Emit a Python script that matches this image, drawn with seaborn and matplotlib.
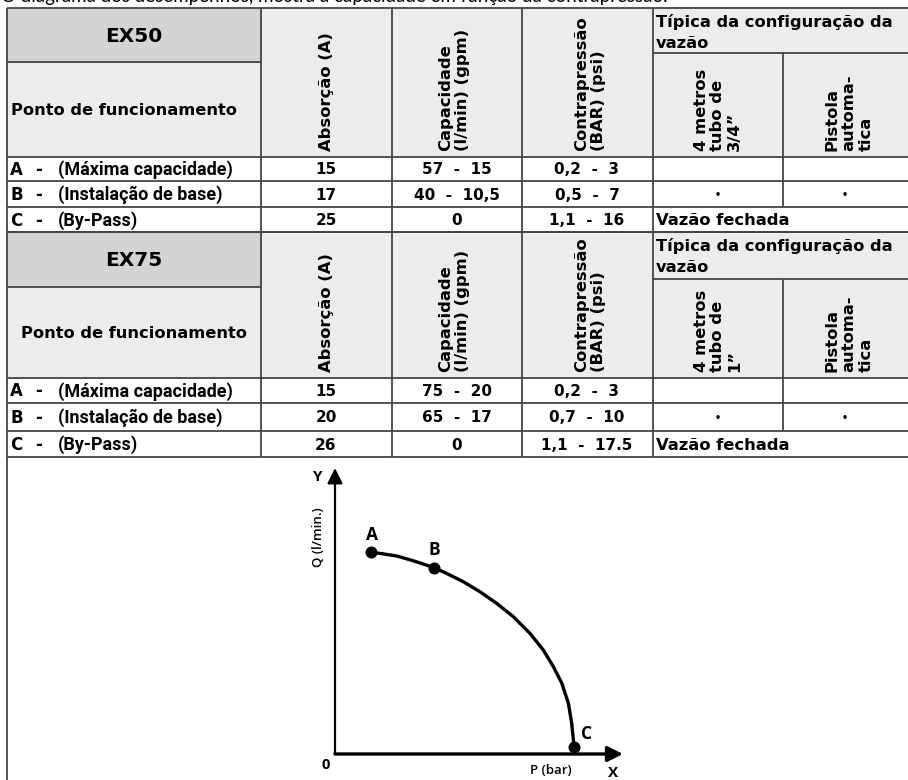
import matplotlib
matplotlib.use('Agg')
import matplotlib.pyplot as plt
from matplotlib.patches import Rectangle
import seaborn as sns

# ---- data ----
caption = 'O diagrama dos desempenhos, mostra a capacidade em função da contrapressão.'
points = ['A', 'B', 'C']
point_desc = ['(Máxima capacidade)', '(Instalação de base)', '(By-Pass)']

ex50_absorcao = ['15', '17', '25']
ex50_capacidade = ['57  -  15', '40  -  10,5', '0']
ex50_contrapressao = ['0,2  -  3', '0,5  -  7', '1,1  -  16']
ex50_tubo = '4 metros\ntubo de\n3/4”'

ex75_absorcao = ['15', '20', '26']
ex75_capacidade = ['75  -  20', '65  -  17', '0']
ex75_contrapressao = ['0,2  -  3', '0,7  -  10', '1,1  -  17.5']
ex75_tubo = '4 metros\ntubo de\n1”'

config_tubo = ['', '•', None]
config_pistola = ['', '•', None]
closed_text = 'Vazão fechada'

# diagram: pressure P vs capacity Q (arbitrary units)
curve_p = [1.2, 1.61, 2.06, 2.61, 3.31, 3.72, 4.28, 4.83, 5.39, 5.94, 6.5, 6.94,
           7.28, 7.56, 7.78, 7.89, 7.97]
curve_q = [6.73, 6.67, 6.6, 6.44, 6.21, 6.02, 5.74, 5.41, 5.02, 4.58, 4.02, 3.47,
           2.91, 2.36, 1.69, 1.02, 0.24]
point_p = [1.2, 3.31, 7.97]
point_q = [6.73, 6.21, 0.24]

sns.set_style('white')
TF = ['DejaVu Sans']
NF = ['Liberation Sans Narrow', 'Roboto', 'DejaVu Sans']
CF = ['Open Sans', 'DejaVu Sans']
plt.rcParams['font.family'] = TF
plt.rcParams['text.color'] = 'black'
W = 'bold'

fig = plt.figure(figsize=(9.08, 7.8), dpi=100)
ax = fig.add_axes([0, 0, 1, 1])
ax.set_xlim(0, 908)
ax.set_ylim(780, 0)
ax.axis('off')

cols = [7, 261, 392, 522, 653, 783, 908]
LC = '#444444'
LW = 1.3


def hline(y, x0, x1):
    ax.plot([x0, x1], [y, y], color=LC, lw=LW, solid_capstyle='butt')


def vline(x, y0, y1):
    ax.plot([x, x], [y0, y1], color=LC, lw=LW, solid_capstyle='butt')


def rot(x, y, s):
    ax.text(x, y, s, rotation=90, rotation_mode='anchor', ha='left', va='center',
            fontsize=11.8, fontweight=W, family=TF, linespacing=1.15)


def block(top, ex_split, tip_split, head_bottom, rows, model,
          absorcao, capacidade, contrapressao, tubo, ponto_center):
    ax.add_patch(Rectangle((cols[0], top), cols[-1] - cols[0], head_bottom - top,
                           fc='#ececec', ec='none'))
    ax.add_patch(Rectangle((cols[0], top), cols[1] - cols[0], ex_split - top,
                           fc='#d4d4d4', ec='none'))
    hline(top, cols[0], cols[-1])
    hline(ex_split, cols[0], cols[1])
    hline(tip_split, cols[4], cols[-1])
    hline(head_bottom, cols[0], cols[-1])
    for r in rows[1:]:
        hline(r, cols[0], cols[-1])
    for c in cols[:5]:
        vline(c, top, rows[-1])
    vline(cols[5], tip_split, rows[2])

    ax.text((cols[0] + cols[1]) / 2, (top + ex_split) / 2 + 1, model, ha='center',
            va='center', fontsize=14.5, fontweight=W)
    py = (ex_split + head_bottom) / 2 + 1
    if ponto_center:
        ax.text((cols[0] + cols[1]) / 2, py, 'Ponto de funcionamento', ha='center',
                va='center', fontsize=11.7, fontweight=W)
    else:
        ax.text(11, py, 'Ponto de funcionamento', ha='left', va='center',
                fontsize=11.7, fontweight=W)
    ax.text(cols[4] + 3, top + 14, 'Típica da configuração da', ha='left',
            va='center', fontsize=11.7, fontweight=W)
    ax.text(cols[4] + 3, top + 36, 'vazão', ha='left', va='center',
            fontsize=11.7, fontweight=W)

    hb = head_bottom - 6
    rot(326, hb, 'Absorção (A)')
    rot(454, hb, 'Capacidade\n(l/min) (gpm)')
    rot(590, hb, 'Contrapressão\n(BAR) (psi)')
    rot(718, hb, tubo)
    rot(849, hb, 'Pistola\nautoma-\ntica')

    for i in range(3):
        yc = (rows[i] + rows[i + 1]) / 2 + 1
        ax.text(10, yc, points[i], ha='left', va='center', fontsize=12, fontweight=W)
        ax.text(39, yc, '-', ha='center', va='center', fontsize=12, fontweight=W)
        ax.text(58, yc, point_desc[i], ha='left', va='center', fontsize=13,
                fontweight='bold', family=NF)
        ax.text(326, yc, absorcao[i], ha='center', va='center', fontsize=11, fontweight=W)
        ax.text(457, yc, capacidade[i], ha='center', va='center', fontsize=11, fontweight=W)
        ax.text(587, yc, contrapressao[i], ha='center', va='center', fontsize=11, fontweight=W)
        if config_tubo[i] is None:
            ax.text(cols[4] + 3, yc, closed_text, ha='left', va='center',
                    fontsize=11.8, fontweight=W)
        else:
            ax.text(718, yc, config_tubo[i], ha='center', va='center', fontsize=7, fontweight=W)
            ax.text(845, yc, config_pistola[i], ha='center', va='center', fontsize=7, fontweight=W)


block(8, 62, 53, 157, [157, 181, 207, 232], 'EX50',
      ex50_absorcao, ex50_capacidade, ex50_contrapressao, ex50_tubo, False)
block(232, 287, 279, 378, [378, 403, 431, 457], 'EX75',
      ex75_absorcao, ex75_capacidade, ex75_contrapressao, ex75_tubo, True)

# caption cut by the top edge
ax.text(1, 2, caption, ha='left', va='baseline', fontsize=13.5, fontweight='normal',
        family=['Lato', 'DejaVu Sans'])

# diagram frame
vline(cols[0], 457, 780)

# ---- diagram ----
cax = fig.add_axes([335 / 908, (780 - 754) / 780, 300 / 908, 300 / 780])
cax.set_xlim(0, 10)
cax.set_ylim(0, 10)
cax.axis('off')
sns.lineplot(x=curve_p, y=curve_q, sort=False, color='black', lw=2.4, ax=cax)
sns.scatterplot(x=point_p, y=point_q, color='black', s=75, linewidth=0, ax=cax, zorder=5)
cax.annotate('', xy=(0, 9.53), xytext=(0, 0),
             arrowprops=dict(arrowstyle='-|>', mutation_scale=23, lw=1.6,
                             color='black', shrinkA=0, shrinkB=0), annotation_clip=False)
cax.annotate('', xy=(9.6, 0), xytext=(0, 0),
             arrowprops=dict(arrowstyle='-|>', mutation_scale=23, lw=2.4,
                             color='black', shrinkA=0, shrinkB=0), annotation_clip=False)
offsets = [(1, 17), (0, 18), (12, 13)]
for lab, p, q, off in zip(points, point_p, point_q, offsets):
    cax.annotate(lab, (p, q), xytext=off, textcoords='offset pixels', ha='center',
                 va='center', fontsize=12.5, fontweight='bold', family=CF)

ax.text(318, 477, 'Y', ha='center', va='center', fontsize=11, fontweight='bold', family=CF)
ax.text(613, 773, 'X', ha='center', va='center', fontsize=11, fontweight='bold', family=CF)
ax.text(326, 765, '0', ha='center', va='center', fontsize=10.5, fontweight='bold', family=CF)
ax.text(551, 770, 'P (bar)', ha='center', va='center', fontsize=9.5, fontweight='semibold', family=CF)
ax.text(318, 537, 'Q (l/min.)', ha='center', va='center', rotation=90, fontsize=9.5,
        fontweight='semibold', family=CF)

fig.savefig('out.png', dpi=100)
